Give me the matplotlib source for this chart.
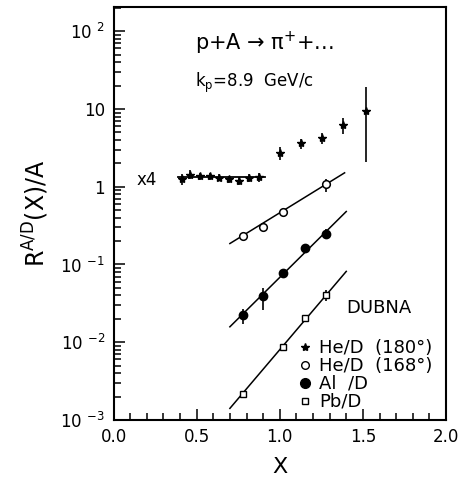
import numpy as np
import matplotlib
matplotlib.use("Agg")
import matplotlib.pyplot as plt
from matplotlib.ticker import FixedLocator, MultipleLocator, LogLocator, NullFormatter

plt.rcParams['font.family'] = ['DejaVu Sans']
plt.rcParams['mathtext.fontset'] = 'dejavusans'

# He/D (180 deg), low X points are scaled x4
he180_x4_x = [0.41, 0.46, 0.52, 0.58, 0.634, 0.694, 0.754, 0.814, 0.874]
he180_x4_y = [1.27, 1.43, 1.37, 1.36, 1.31, 1.24, 1.18, 1.31, 1.33]
he180_x4_lo = [1.06, 1.25, 1.22, 1.21, 1.17, 1.12, 1.04, 1.16, 1.16]
he180_x4_hi = [1.47, 1.62, 1.52, 1.50, 1.45, 1.37, 1.32, 1.46, 1.52]
flat_x = [0.39, 0.91]
flat_y = [1.32, 1.32]

he180_x = [1.00, 1.127, 1.257, 1.383, 1.52]
he180_y = [2.74, 3.65, 4.23, 6.14, 9.40]
he180_lo = [2.24, 3.08, 3.5, 4.8, 2.08]
he180_hi = [3.24, 4.14, 4.9, 7.6, 19.1]

# He/D (168 deg)
he168_x = [0.78, 0.90, 1.02, 1.28]
he168_y = [0.232, 0.303, 0.467, 1.07]
he168_lo = [0.222, 0.290, 0.447, 0.86]
he168_hi = [0.243, 0.317, 0.488, 1.27]
he168_fit_x = [0.70, 1.39]
he168_fit_y = [0.186, 1.51]

# Al/D
al_x = [0.78, 0.90, 1.02, 1.15, 1.28]
al_y = [0.0226, 0.039, 0.0778, 0.163, 0.249]
al_lo = [0.017, 0.026, 0.074, 0.155, 0.21]
al_hi = [0.027, 0.050, 0.082, 0.171, 0.29]
al_fit_x = [0.70, 1.40]
al_fit_y = [0.0158, 0.48]

# Pb/D
pb_x = [0.78, 1.02, 1.15, 1.28]
pb_y = [0.00213, 0.00858, 0.0205, 0.040]
pb_lo = [0.00203, 0.0082, 0.0196, 0.034]
pb_hi = [0.00223, 0.0090, 0.0214, 0.047]
pb_fit_x = [0.70, 1.40]
pb_fit_y = [0.00141, 0.0815]

legend_labels = ['He/D  (180°)', 'He/D  (168°)', 'Al  /D', 'Pb/D']

def yerr(y, lo, hi):
    y = np.array(y)
    return [y - np.array(lo), np.array(hi) - y]

fig = plt.figure(figsize=(4.62, 4.79), dpi=100)
ax = fig.add_axes([0.2457, 0.1232, 0.7197, 0.8622])
ax.set_yscale('log')
ax.set_xlim(0.0, 2.0)
ax.set_ylim(1e-3, 205)

k = 'black'
ax.errorbar(he180_x4_x, he180_x4_y, yerr=yerr(he180_x4_y, he180_x4_lo, he180_x4_hi),
            fmt='*', color=k, ms=6, elinewidth=1.2, capsize=0)
ax.plot(flat_x, flat_y, color=k, lw=1.3)
ax.errorbar(he180_x, he180_y, yerr=yerr(he180_y, he180_lo, he180_hi),
            fmt='*', color=k, ms=6, elinewidth=1.2, capsize=0)

ax.errorbar(he168_x, he168_y, yerr=yerr(he168_y, he168_lo, he168_hi),
            fmt='o', mfc='white', mec=k, color=k, ms=5.5, mew=1.1, elinewidth=1.2, capsize=0)
ax.plot(he168_fit_x, he168_fit_y, color=k, lw=1.1)

ax.errorbar(al_x, al_y, yerr=yerr(al_y, al_lo, al_hi),
            fmt='o', color=k, ms=6, elinewidth=1.2, capsize=0)
ax.plot(al_fit_x, al_fit_y, color=k, lw=1.1)

ax.errorbar(pb_x, pb_y, yerr=yerr(pb_y, pb_lo, pb_hi),
            fmt='s', mfc='white', mec=k, color=k, ms=4.5, mew=1.0, elinewidth=1.2, capsize=0)
ax.plot(pb_fit_x, pb_fit_y, color=k, lw=1.1)

# ticks
ax.set_xticks([0.0, 0.5, 1.0, 1.5, 2.0])
ax.set_xticklabels(['0.0', '0.5', '1.0', '1.5', '2.0'])
ax.xaxis.set_minor_locator(MultipleLocator(0.1))
ax.yaxis.set_major_locator(FixedLocator([1e-3, 1e-2, 1e-1, 1, 10, 100]))
ax.yaxis.set_minor_locator(LogLocator(base=10, subs=np.arange(2, 10)))
ax.yaxis.set_minor_formatter(NullFormatter())
ax.set_yticklabels([r'10 $^{-3}$', r'10 $^{-2}$', r'10 $^{-1}$', '1', '10', r'10 $^{2}$'])
ax.tick_params(which='both', direction='in', top=False, right=False, labelsize=12, width=1.1)
ax.tick_params(which='major', length=8, pad=6)
ax.tick_params(which='minor', length=5)
for s in ax.spines.values():
    s.set_linewidth(1.5)

ax.set_xlabel('X', fontsize=16, labelpad=8)
ax.set_ylabel(r'R$^{\rm A/D}$(X)/A', fontsize=17, labelpad=7)

ax.text(0.245, 0.913, 'p+A → π$^{+}$+...', transform=ax.transAxes, fontsize=15, va='center')
ax.text(0.245, 0.815, r'k$_{\rm p}$=8.9  GeV/c', transform=ax.transAxes, fontsize=12, va='center')
ax.text(0.068, 0.58, 'x4', transform=ax.transAxes, fontsize=12, va='center')
ax.text(0.70, 0.271, 'DUBNA', transform=ax.transAxes, fontsize=13, va='center')

h1 = plt.Line2D([], [], ls='none', marker='*', color=k, ms=6)
h2 = plt.Line2D([], [], ls='none', marker='o', mfc='white', mec=k, ms=5.5)
h3 = plt.Line2D([], [], ls='none', marker='o', color=k, ms=7)
h4 = plt.Line2D([], [], ls='none', marker='s', mfc='white', mec=k, ms=5)
ax.legend([h1, h2, h3, h4], legend_labels,
          loc='upper left', bbox_to_anchor=(0.51, 0.227), frameon=False,
          fontsize=13, handletextpad=0.3, labelspacing=0.0, borderpad=0.2, handlelength=1.0)

fig.savefig('out.png', dpi=100)
